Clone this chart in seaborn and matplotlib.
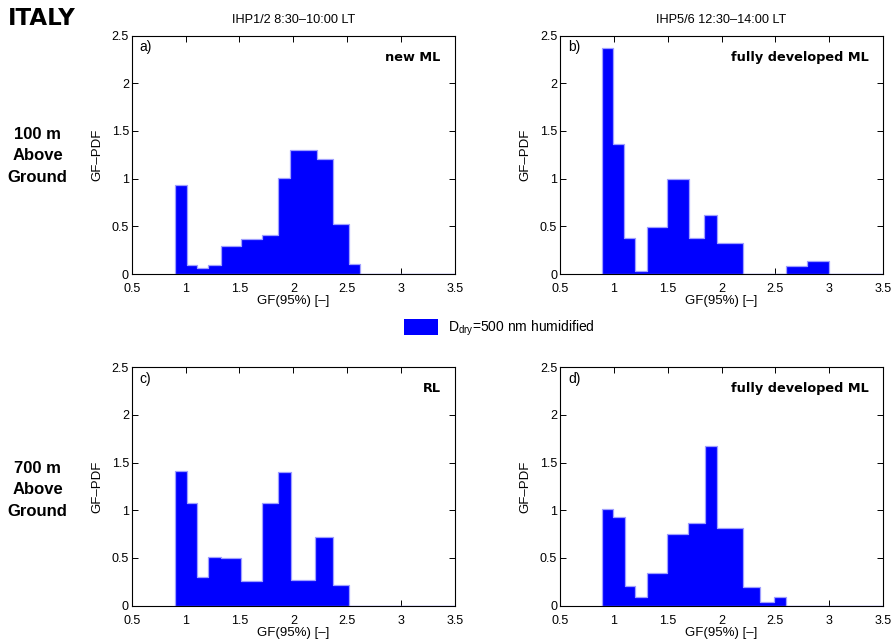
import numpy as np
import pandas as pd
import matplotlib
matplotlib.use("Agg")
import matplotlib.pyplot as plt
from matplotlib.patches import Patch
from matplotlib.ticker import FormatStrFormatter, MultipleLocator
import seaborn as sns

# GF(95%) bin edges and GF-PDF values
edges_a = [0.90, 1.015, 1.11, 1.205, 1.33, 1.51, 1.71, 1.855, 1.97, 2.215, 2.365, 2.515, 2.615, 3.5]
pdf_a = [0.93, 0.09, 0.06, 0.09, 0.29, 0.37, 0.41, 1.01, 1.30, 1.21, 0.52, 0.10, 0.0]

edges_b = [0.89, 0.99, 1.095, 1.20, 1.31, 1.49, 1.695, 1.84, 1.955, 2.20, 2.595, 2.79, 3.0, 3.5]
pdf_b = [2.37, 1.36, 0.38, 0.03, 0.49, 1.00, 0.38, 0.62, 0.33, 0.0, 0.08, 0.14, 0.0]

edges_c = [0.90, 1.015, 1.11, 1.205, 1.33, 1.515, 1.705, 1.855, 1.975, 2.20, 2.365, 2.515, 3.5]
pdf_c = [1.41, 1.08, 0.30, 0.51, 0.50, 0.26, 1.08, 1.40, 0.27, 0.72, 0.22, 0.0]

edges_d = [0.89, 0.995, 1.10, 1.195, 1.31, 1.49, 1.69, 1.845, 1.96, 2.20, 2.355, 2.49, 2.60, 3.5]
pdf_d = [1.01, 0.93, 0.21, 0.09, 0.34, 0.75, 0.87, 1.67, 0.81, 0.20, 0.035, 0.09, 0.0]

panel_tags = ["a)", "b)", "c)", "d)"]
panel_notes = ["new ML", "fully developed ML", "RL", "fully developed ML"]
col_titles = ["IHP1/2 8:30\u201310:00 LT", "IHP5/6 12:30\u201314:00 LT"]
row_labels = ["100 m\nAbove\nGround", "700 m\nAbove\nGround"]
legend_label = "D$_{\\mathrm{dry}}$=500 nm humidified"

sns.set_style("ticks")
plt.rcParams["font.family"] = ["Liberation Sans", "DejaVu Sans"]
plt.rcParams["mathtext.fontset"] = "custom"
plt.rcParams["mathtext.rm"] = "Liberation Sans"
plt.rcParams["mathtext.it"] = "Liberation Sans:italic"
for key in ["text.color", "axes.labelcolor", "xtick.color", "ytick.color"]:
    plt.rcParams[key] = "black"

fig = plt.figure(figsize=(8.93, 6.41), dpi=100)

# left, bottom positions of the four axes (figure fractions)
w, h = 0.362, 0.372
positions = [(0.1475, 0.5725), (0.627, 0.5725), (0.1475, 0.0551), (0.627, 0.0551)]
all_edges = [edges_a, edges_b, edges_c, edges_d]
all_pdf = [pdf_a, pdf_b, pdf_c, pdf_d]

blue = "#0000ff"
heavy = ["DejaVu Sans"]
axes = []
for i in range(4):
    ax = fig.add_axes([positions[i][0], positions[i][1], w, h])
    e = np.array(all_edges[i])
    df = pd.DataFrame({"gf": (e[:-1] + e[1:]) / 2, "pdf": all_pdf[i]})
    sns.histplot(data=df, x="gf", weights="pdf", bins=list(all_edges[i]),
                 stat="count", element="step", fill=True, color=blue,
                 alpha=1, edgecolor="#a0a0ff", linewidth=0.9, ax=ax)
    ax.set_xlim(0.5, 3.5)
    ax.set_ylim(0, 2.5)
    ax.xaxis.set_major_locator(MultipleLocator(0.5))
    ax.yaxis.set_major_locator(MultipleLocator(0.5))
    ax.xaxis.set_major_formatter(FormatStrFormatter("%g"))
    ax.yaxis.set_major_formatter(FormatStrFormatter("%g"))
    ax.tick_params(direction="in", top=True, right=True, labelsize=9,
                   length=4, width=0.7)
    ax.tick_params(axis="x", pad=6.5)
    ax.tick_params(axis="y", pad=2)
    for s in ax.spines.values():
        s.set_linewidth(0.8)
        s.set_color("black")
    ax.set_xlabel("GF(95%) [\u2013]", fontsize=9.5, labelpad=0)
    ax.set_ylabel("GF\u2013PDF", fontsize=9.5, labelpad=6)
    ax.text(0.025, 0.95, panel_tags[i], transform=ax.transAxes,
            fontsize=10, ha="left", va="center")
    ax.text(0.955, 0.91, panel_notes[i], transform=ax.transAxes,
            fontsize=9.3, fontweight="bold", family=heavy,
            ha="right", va="center")
    axes.append(ax)

axes[0].set_title(col_titles[0], fontsize=9.2, pad=9)
axes[1].set_title(col_titles[1], fontsize=9.2, pad=9)

fig.text(0.009, 0.971, "ITALY", fontsize=16.5, fontweight="bold",
         family=heavy, ha="left", va="center")
fig.text(0.042, 0.757, row_labels[0], fontsize=12, fontweight="bold",
         ha="center", va="center", linespacing=1.55)
fig.text(0.042, 0.236, row_labels[1], fontsize=12, fontweight="bold",
         ha="center", va="center", linespacing=1.55)

fig.legend(handles=[Patch(facecolor=blue, edgecolor="none")],
           labels=[legend_label], loc="center",
           bbox_to_anchor=(0.559, 0.487), frameon=False, fontsize=10,
           handlelength=2.5, handleheight=1.4, handletextpad=0.7)

fig.savefig("out.png", dpi=100)
